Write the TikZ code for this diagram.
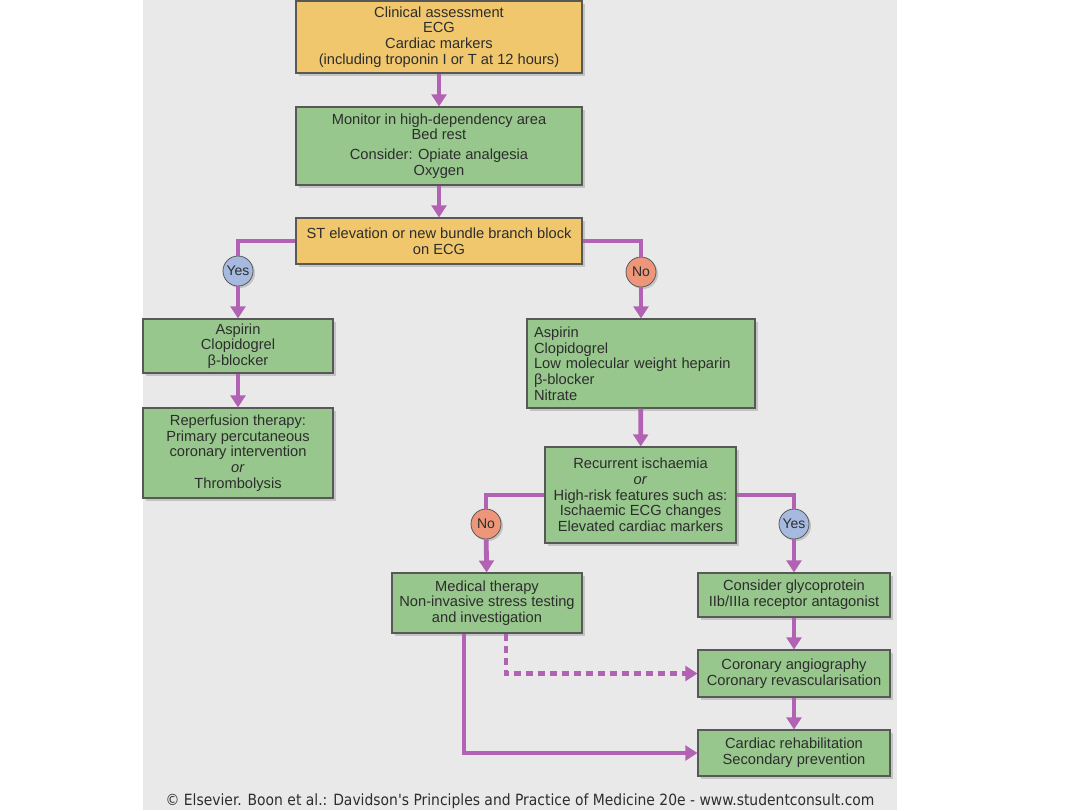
\documentclass[tikz,border=0pt]{standalone}
\usepackage{fontspec}
\setmainfont{Liberation Sans}
\newfontfamily\capfont{DejaVu Sans Condensed}
\usetikzlibrary{arrows.meta,shadows}
\newdimen\px \px=0.75pt
\definecolor{panelgray}{RGB}{233,233,233}
\definecolor{ylw}{RGB}{240,199,108}
\definecolor{grn}{RGB}{151,199,140}
\definecolor{boxline}{RGB}{88,88,88}
\definecolor{txt}{RGB}{45,45,45}
\definecolor{lnk}{RGB}{178,98,178}
\definecolor{yescol}{RGB}{166,186,224}
\definecolor{nocol}{RGB}{238,150,122}
\tikzset{
	box/.style={draw=boxline, line width=0.8pt, text=txt, align=center, inner sep=0pt,
		drop shadow={shadow xshift=2pt, shadow yshift=-2.5pt, opacity=0.35},
		font=\fontsize{11}{11.8}\selectfont},
	ybox/.style={box, fill=ylw},
	gbox/.style={box, fill=grn},
	answer/.style={circle, draw=boxline, line width=0.6pt, minimum size=30\px, inner sep=0pt,
		text=txt, font=\fontsize{10.5}{10.5}\selectfont,
		drop shadow={shadow xshift=1.5pt, shadow yshift=-1.5pt, opacity=0.35}},
	link/.style={draw=lnk, line width=3.6pt},
	arr/.style={link, -{Triangle[length=9pt, width=11pt]}},
}
\begin{document}
\begin{tikzpicture}[x=0.75pt, y=-0.75pt]
			%%%%% START %%%%%
			\useasboundingbox (0, 0) rectangle (1080, 810);
			\fill[white] (0, 0) rectangle (1080, 810);
			\fill[panelgray] (143, 0) rectangle (897, 810);
			
			\node[ybox, minimum width=286\px, minimum height=72\px] (assess) at (439, 37) {Clinical assessment\\ECG\\Cardiac markers\\(including troponin I or T at 12 hours)};
			\node[gbox, minimum width=286\px, minimum height=78\px] (monitor) at (439, 146) {Monitor in high-dependency area\\Bed rest\\[3pt]Consider: Opiate analgesia\\Oxygen};
			\node[ybox, minimum width=286\px, minimum height=46\px] (stelev) at (439, 241) {ST elevation or new bundle branch block\\on ECG};
			
			\node[answer, fill=yescol] (yesst) at (238, 271) {Yes};
			\node[answer, fill=nocol] (nost) at (641, 272) {No};
			
			\node[gbox, minimum width=190\px, minimum height=54\px] (aspleft) at (238, 346) {Aspirin\\Clopidogrel\\β-blocker};
			\node[gbox, minimum width=190\px, minimum height=90\px] (reperf) at (238, 453) {Reperfusion therapy:\\Primary percutaneous\\coronary intervention\\\textit{or}\\Thrombolysis};
			
			\node[gbox, align=left, text width=214\px, inner xsep=7\px, minimum height=89\px] (aspright) at (641, 363.5) {Aspirin\\Clopidogrel\\Low molecular weight heparin\\β-blocker\\Nitrate};
			\node[gbox, minimum width=191\px, minimum height=96\px] (recur) at (640.5, 495) {Recurrent ischaemia\\\textit{or}\\High-risk features such as:\\Ischaemic ECG changes\\Elevated cardiac markers};
			
			\node[answer, fill=nocol] (norecur) at (486, 524) {No};
			\node[answer, fill=yescol] (yesrecur) at (794, 524) {Yes};
			
			\node[gbox, minimum width=190\px, minimum height=60\px] (medical) at (487, 603) {Medical therapy\\Non-invasive stress testing\\and investigation};
			\node[gbox, minimum width=192\px, minimum height=44\px] (glyco) at (794, 595) {Consider glycoprotein\\IIb/IIIa receptor antagonist};
			\node[gbox, minimum width=192\px, minimum height=47\px] (angio) at (794, 673.5) {Coronary angiography\\Coronary revascularisation};
			\node[gbox, minimum width=192\px, minimum height=46\px] (rehab) at (794, 753) {Cardiac rehabilitation\\Secondary prevention};
			
			%%%%% LINKS %%%%%
			\draw[arr] (assess) -- (monitor);
			\draw[arr] (monitor) -- (stelev);
			\draw[link] (stelev.west) -| (yesst.north);
			\draw[link] (stelev.east) -| (nost.north);
			\draw[arr] (yesst) -- (aspleft);
			\draw[arr] (aspleft) -- (reperf);
			\draw[arr] (nost) -- (aspright);
			\draw[arr] (aspright) -- (recur);
			\draw[link] (recur.west) -| (norecur.north);
			\draw[link] (recur.east) -| (yesrecur.north);
			\draw[arr] (norecur) -- (medical);
			\draw[arr] (yesrecur) -- (glyco);
			\draw[arr] (glyco) -- (angio);
			\draw[arr] (angio) -- (rehab);
			
			\coordinate (medout) at ([xshift=-23\px]medical.south);
			\coordinate (medtry) at ([xshift=19\px]medical.south);
			\draw[arr] (medout) |- (rehab.west);
			\draw[arr, dash pattern=on 5.5pt off 3.5pt] (medtry) |- (angio.west);
			
			\node[text=txt, font=\capfont\fontsize{11.6}{11.6}\selectfont] (caption) at (520, 801) {© Elsevier. Boon et al.: Davidson's Principles and Practice of Medicine 20e - www.studentconsult.com};
			%%%%% END %%%%%
\end{tikzpicture}
\end{document}
